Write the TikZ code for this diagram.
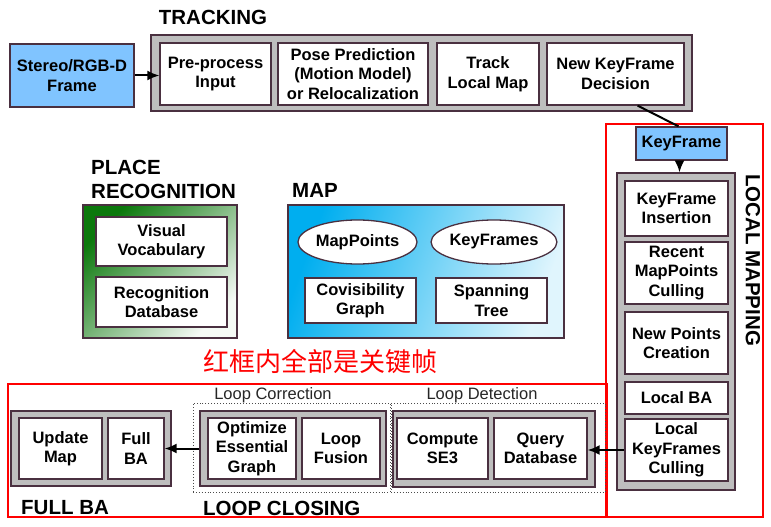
\documentclass[tikz,border=0pt]{standalone}
\usepackage{fontspec}
\setmainfont{Liberation Sans}
\newfontfamily\cjk{Noto Sans CJK SC}
\usetikzlibrary{arrows.meta,calc,shapes.geometric}
\definecolor{bord}{HTML}{4A3040}
\definecolor{grayfill}{HTML}{BEBEBE}
\definecolor{kfblue}{HTML}{80C4FF}
\definecolor{mapblue}{HTML}{00AEEF}
\definecolor{pgreen}{HTML}{0C780C}
\definecolor{redline}{HTML}{FF0000}
\begin{document}
\begin{tikzpicture}[x=1pt,y=-1pt,
  box/.style={draw=bord, fill=white, line width=1.3pt, align=center, inner sep=0pt, font=\bfseries\fontsize{16.5}{19.5}\selectfont},
  cont/.style={draw=bord, fill=grayfill, line width=1.3pt, inner sep=0pt},
  bluebox/.style={box, fill=kfblue},
  redbox/.style={draw=redline, line width=2pt, inner sep=0pt},
  dotbox/.style={draw=black!70, dotted, line width=0.9pt, inner sep=0pt},
  title/.style={font=\bfseries\fontsize{20.5}{24}\selectfont, inner sep=0pt, align=left},
  sub/.style={font=\fontsize{16.5}{19}\selectfont, inner sep=0pt, text=black!85},
  arr/.style={-{Latex[length=12pt,width=10pt]}, line width=2pt},
  conn/.style={line width=2pt},
]
\useasboundingbox (0,0) rectangle (771,527);

% ---------- TRACKING ----------
\node[title] (trkt) at (213,17) {TRACKING};
\node[bluebox, minimum width=124, minimum height=63] (frame) at (72,75.5) {Stereo/RGB-D\\Frame};
\node[cont, minimum width=541, minimum height=76] (trk) at (421.5,73) {};
\node[box, minimum width=111, minimum height=62] (pre) at (215.5,74) {Pre-process\\Input};
\node[box, minimum width=150, minimum height=62] (pose) at (353,74) {Pose Prediction\\(Motion Model)\\or Relocalization};
\node[box, minimum width=102, minimum height=62] (track) at (488,74) {Track\\Local Map};
\node[box, minimum width=137, minimum height=62] (nkd) at (615.5,74) {New KeyFrame\\Decision};

% ---------- LOCAL MAPPING ----------
\node[redbox, minimum width=157, minimum height=393] (lm) at (684.5,320.5) {};
\node[bluebox, minimum width=91, minimum height=33] (kf) at (681.5,143.5) {KeyFrame};
\node[cont, minimum width=118, minimum height=317] (lmg) at (676,331.5) {};
\node[box, minimum width=103, minimum height=55] (kfi) at (676.5,208.5) {KeyFrame\\Insertion};
\node[box, minimum width=103, minimum height=62] (rmc) at (676.5,273) {Recent\\MapPoints\\Culling};
\node[box, minimum width=103, minimum height=62] (npc) at (676.5,343) {New Points\\Creation};
\node[box, minimum width=103, minimum height=32] (lba) at (676.5,398) {Local BA};
\node[box, minimum width=103, minimum height=62] (lkc) at (676.5,450) {Local\\KeyFrames\\Culling};
\node[title, rotate=-90] (lmt) at (753,260) {LOCAL MAPPING};

% ---------- PLACE RECOGNITION ----------
\node[title, anchor=west] (prt) at (91,179) {PLACE\\RECOGNITION};
\node[draw=bord, line width=1.3pt, top color=pgreen, middle color=pgreen!65!white, bottom color=pgreen!4!white, shading angle=45, minimum width=154, minimum height=133, inner sep=0pt] (pr) at (160,271.5) {};
\node[box, minimum width=131, minimum height=49] (vv) at (161.5,241.5) {Visual\\Vocabulary};
\node[box, minimum width=131, minimum height=50] (rdb) at (161.5,302) {Recognition\\Database};

% ---------- MAP ----------
\node[title, anchor=west] (mapt) at (292,190.5) {MAP};
\node[draw=bord, line width=1.3pt, left color=mapblue, middle color=mapblue!65!white, right color=mapblue!12!white, shading angle=70, minimum width=276, minimum height=133, inner sep=0pt] (map) at (426,271.5) {};
\node[box, ellipse, minimum width=119, minimum height=44] (mp) at (357.5,242) {MapPoints};
\node[box, ellipse, minimum width=120, minimum height=44] (kfs) at (494,242) {KeyFrames};
\node[box, minimum width=111, minimum height=45] (cov) at (360.5,300.5) {Covisibility\\Graph};
\node[box, minimum width=111, minimum height=45] (span) at (491.5,300.5) {Spanning\\Tree};

% ---------- note ----------
\node[text=redline, font=\cjk\fontsize{26}{30}\selectfont, inner sep=0pt] (note) at (320,362) {红框内全部是关键帧};

% ---------- LOOP CLOSING ----------
\node[redbox, minimum width=599, minimum height=133] (lc) at (307.5,450.5) {};
\node[sub] (corrt) at (273,395) {Loop Correction};
\node[sub] (dett) at (482,395) {Loop Detection};
\node[dotbox, minimum width=197, minimum height=89] (corrd) at (291.5,447.5) {};
\node[dotbox, minimum width=214, minimum height=89] (detd) at (498,447.5) {};
\node[cont, minimum width=160, minimum height=75] (fbag) at (91,448.5) {};
\node[box, minimum width=83, minimum height=61] (um) at (60.5,448.5) {Update\\Map};
\node[box, minimum width=56, minimum height=61] (fb) at (136,448.5) {Full\\BA};
\node[cont, minimum width=186, minimum height=75] (corrg) at (293,448.5) {};
\node[box, minimum width=88, minimum height=61] (oeg) at (252,448.5) {Optimize\\Essential\\Graph};
\node[box, minimum width=78, minimum height=61] (lf) at (341,448.5) {Loop\\Fusion};
\node[cont, minimum width=202, minimum height=76] (detg) at (494,449) {};
\node[box, minimum width=91, minimum height=61] (se3) at (442.5,448.5) {Compute\\SE3};
\node[box, minimum width=93, minimum height=61] (qdb) at (540.5,448.5) {Query\\Database};
\node[title, anchor=west] (fbat) at (21,508) {FULL BA};
\node[title, anchor=west] (lct) at (203,508) {LOOP CLOSING};

% ---------- connectors ----------
\draw[arr] (frame.east) -- (frame.east -| pre.west);
\draw[conn] ($(nkd.south west)!0.66!(nkd.south east)$) -- ($(kf.north)+(-3,0)$);
\draw[arr] ($(kf.south)+(-2,0)$) -- ($(kf.south |- lmg.north)+(-2,0)$);
\draw[arr] (lkc.west) -- (lkc.west -| qdb.east);
\draw[arr] (corrg.west) -- (corrg.west -| fb.east);
\end{tikzpicture}
\end{document}
